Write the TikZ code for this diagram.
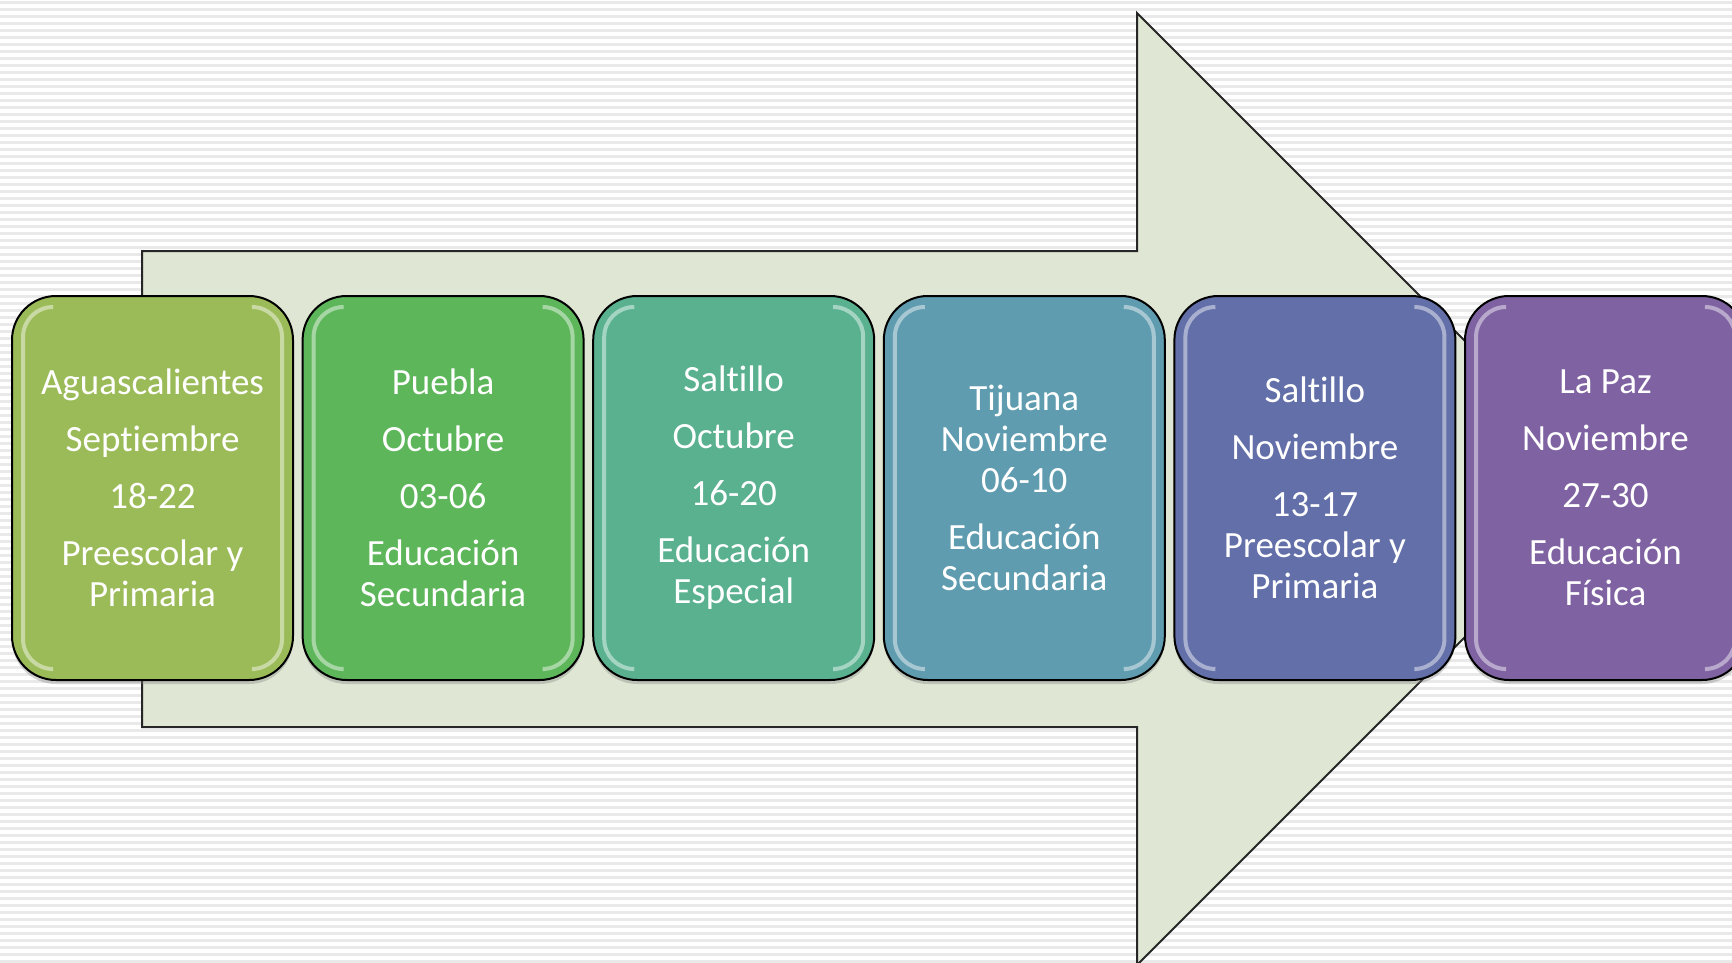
\documentclass[tikz,border=0pt]{standalone}
\usepackage{fontspec}
\setmainfont{Carlito}[Ligatures={NoCommon,NoRequired,NoContextual}]
\usetikzlibrary{shadows}
\definecolor{cA}{HTML}{9BBB59}
\definecolor{cB}{HTML}{5EB65B}
\definecolor{cC}{HTML}{5AB190}
\definecolor{cD}{HTML}{5F9CAF}
\definecolor{cE}{HTML}{626FA8}
\definecolor{cF}{HTML}{7F62A1}
\definecolor{arrowfill}{HTML}{DFE6D3}
\definecolor{stripe}{HTML}{E9E9E9}
\tikzset{
  stepbox/.style={draw=black, line width=2pt, rounded corners=44pt,
    minimum width=281pt, minimum height=384pt, text=white, align=center,
    font=\fontsize{37pt}{41pt}\selectfont,
    drop shadow={shadow xshift=0pt, shadow yshift=-4pt, opacity=.35}},
  bigarrow/.style={draw=black!85, line width=2pt, fill=arrowfill, line join=miter},
  gloss/.style={white, opacity=.45, line width=4pt, rounded corners=30pt}
}
\begin{document}
\begin{tikzpicture}[x=1pt,y=-1pt]
\useasboundingbox (0,0) rectangle (1732,963);
\clip (0,0) rectangle (1732,963);
\fill[white] (0,0) rectangle (1732,963);
\foreach \i in {0,...,138} {
  \fill[stripe] (0,{\i*7+1}) rectangle (1732,{\i*7+4});
}
\draw[bigarrow] (142,251) -- (1137,251) -- (1137,13) -- (1613,489) -- (1137,965) -- (1137,727) -- (142,727) -- cycle;

\node[stepbox, fill=cA] (b1) at (152.5,488) {Aguascalientes\\[16pt]Septiembre\\[16pt]18-22\\[16pt]Preescolar y\\Primaria};
\node[stepbox, fill=cB] (b2) at (443.1,488) {Puebla\\[16pt]Octubre\\[16pt]03-06\\[16pt]Educación\\Secundaria};
\node[stepbox, fill=cC] (b3) at (733.7,488) {Saltillo\\[16pt]Octubre\\[16pt]16-20\\[16pt]Educación\\Especial};
\node[stepbox, fill=cD] (b4) at (1024.3,488) {Tijuana\\Noviembre\\06-10\\[16pt]Educación\\Secundaria};
\node[stepbox, fill=cE] (b5) at (1314.9,488) {Saltillo\\[16pt]Noviembre\\[16pt]13-17\\Preescolar y\\Primaria};
\node[stepbox, fill=cF] (b6) at (1605.5,488) {La Paz\\[16pt]Noviembre\\[16pt]27-30\\[16pt]Educación\\Física};

\foreach \b in {b1,b2,b3,b4,b5,b6} {
  \draw[gloss] ([shift={(40,12)}]\b.north west) -- ([shift={(12,12)}]\b.north west)
     -- ([shift={(12,-12)}]\b.south west) -- ([shift={(40,-12)}]\b.south west);
  \draw[gloss] ([shift={(-40,12)}]\b.north east) -- ([shift={(-12,12)}]\b.north east)
     -- ([shift={(-12,-12)}]\b.south east) -- ([shift={(-40,-12)}]\b.south east);
}
\end{tikzpicture}
\end{document}
